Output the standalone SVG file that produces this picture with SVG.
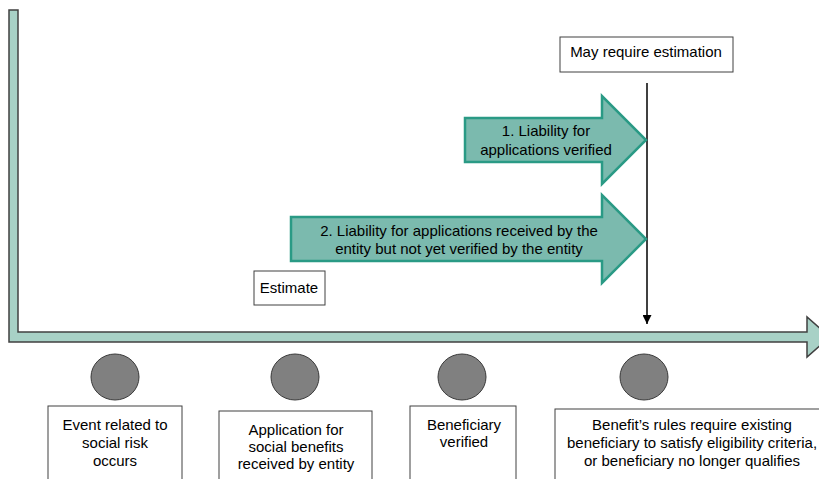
<svg xmlns="http://www.w3.org/2000/svg" width="819" height="479" viewBox="0 0 819 479">
<style>
text{font-family:"Liberation Sans",Arial,sans-serif;font-size:15px;fill:#000;text-anchor:middle}
.box{fill:#fff;stroke:#404040;stroke-width:1}
.dot{fill:#808080;stroke:#3a3a3a;stroke-width:1}
.big{fill:#7bbaae;stroke:#2a9a85;stroke-width:2.5;stroke-linejoin:miter}
</style>
<defs>
<marker id="ah" viewBox="0 0 10 10" refX="10" refY="5" markerWidth="9" markerHeight="9" markerUnits="userSpaceOnUse" orient="auto"><path d="M0,0 L10,5 L0,10 Z" fill="#000"/></marker>
</defs>
<rect width="819" height="479" fill="#fff"/>
<g id="timeline">
<path d="M9,10 L18,10 L18,332 L807,332 L807,317 L830,337 L807,357 L807,342 L9,342 Z" fill="#a8d1c6" stroke="#404040" stroke-width="1.5"/>
</g>
<g id="connectors">
<line x1="647" y1="83" x2="647" y2="324" stroke="#000" stroke-width="1.5" marker-end="url(#ah)"/>
</g>
<g id="may-require">
<rect class="box" x="560" y="37" width="173" height="35"/>
<text x="646" y="57">May require estimation</text>
</g>
<g id="liability1">
<path class="big" d="M465,118 L602,118 L602,96 L646,140 L602,184 L602,162 L465,162 Z"/>
<text x="546" y="136">1. Liability for</text>
<text x="546" y="155">applications verified</text>
</g>
<g id="liability2">
<path class="big" d="M291,217 L602,217 L602,195 L646,239 L602,283 L602,261 L291,261 Z"/>
<text x="459" y="236">2. Liability for applications received by the</text>
<text x="459" y="254">entity but not yet verified by the entity</text>
</g>
<g id="estimate">
<rect class="box" x="254" y="271" width="71" height="34"/>
<text x="289" y="293">Estimate</text>
</g>
<g id="event">
<ellipse class="dot" cx="115" cy="377" rx="24" ry="23"/>
<rect class="box" x="48" y="406" width="134" height="80"/>
<text x="115" y="430">Event related to</text>
<text x="115" y="448">social risk</text>
<text x="115" y="466">occurs</text>
</g>
<g id="application">
<ellipse class="dot" cx="295" cy="377" rx="24" ry="23"/>
<rect class="box" x="219" y="411" width="153" height="80"/>
<text x="296" y="435">Application for</text>
<text x="296" y="452">social benefits</text>
<text x="296" y="469">received by entity</text>
</g>
<g id="verified">
<ellipse class="dot" cx="462" cy="377" rx="24" ry="23"/>
<rect class="box" x="410" y="406" width="106" height="80"/>
<text x="464" y="430">Beneficiary</text>
<text x="464" y="447">verified</text>
</g>
<g id="rules">
<ellipse class="dot" cx="644" cy="377" rx="24" ry="23"/>
<rect class="box" x="555" y="409" width="280" height="80"/>
<text x="692" y="430">Benefit’s rules require existing</text>
<text x="692" y="448">beneficiary to satisfy eligibility criteria,</text>
<text x="692" y="466">or beneficiary no longer qualifies</text>
</g>
</svg>
